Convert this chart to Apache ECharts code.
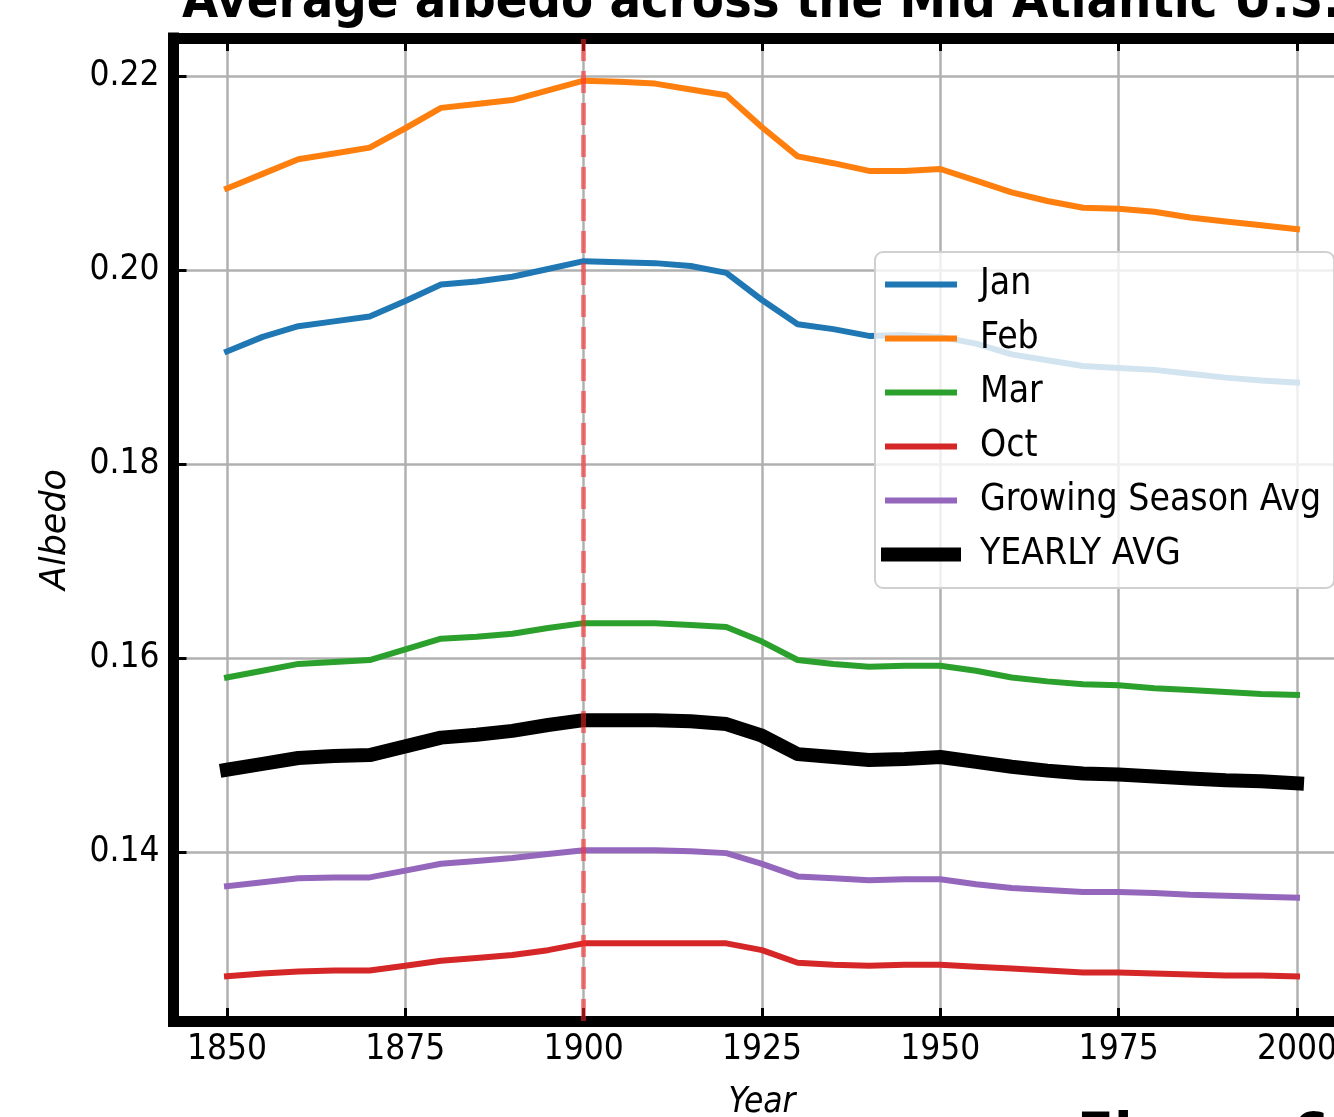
<!DOCTYPE html>
<html>
<head>
<meta charset="utf-8">
<script src="https://cdn.jsdelivr.net/npm/echarts@6/dist/echarts.min.js"></script>
<style>
  html, body { margin: 0; padding: 0; background: #fff; }
  #chart { width: 1334px; height: 1117px; }
</style>
</head>
<body>
<div id="chart"></div>
<script>
// data, 5-year steps
const years = [1850, 1855, 1860, 1865, 1870, 1875, 1880, 1885, 1890, 1895, 1900, 1905, 1910, 1915, 1920,
  1925, 1930, 1935, 1940, 1945, 1950, 1955, 1960, 1965, 1970, 1975, 1980, 1985, 1990, 1995, 2000];
const jan = [0.1916, 0.1931, 0.1942, 0.1947, 0.1952, 0.1968, 0.1985, 0.1988, 0.1993, 0.2001, 0.2009, 0.2008, 0.2007, 0.2004, 0.1997,
  0.1969, 0.1944, 0.1939, 0.1932, 0.1933, 0.1931, 0.1924, 0.1913, 0.1907, 0.1901, 0.1899, 0.1897, 0.1893, 0.1889, 0.1886, 0.1884];
const feb = [0.2084, 0.2099, 0.2114, 0.2120, 0.2126, 0.2146, 0.2167, 0.2171, 0.2175, 0.2185, 0.2195, 0.2194, 0.2192, 0.2186, 0.2180,
  0.2147, 0.2117, 0.2110, 0.2102, 0.2102, 0.2104, 0.2092, 0.2080, 0.2071, 0.2064, 0.2063, 0.2060, 0.2054, 0.2050, 0.2046, 0.2042];
const mar = [0.1580, 0.1587, 0.1594, 0.1596, 0.1598, 0.1609, 0.1620, 0.1622, 0.1625, 0.1631, 0.1636, 0.1636, 0.1636, 0.1634, 0.1632,
  0.1617, 0.1598, 0.1594, 0.1591, 0.1592, 0.1592, 0.1587, 0.1580, 0.1576, 0.1573, 0.1572, 0.1569, 0.1567, 0.1565, 0.1563, 0.1562];
const oct = [0.1272, 0.1275, 0.1277, 0.1278, 0.1278, 0.1283, 0.1288, 0.1291, 0.1294, 0.1299, 0.1306, 0.1306, 0.1306, 0.1306, 0.1306,
  0.1299, 0.1286, 0.1284, 0.1283, 0.1284, 0.1284, 0.1282, 0.1280, 0.1278, 0.1276, 0.1276, 0.1275, 0.1274, 0.1273, 0.1273, 0.1272];
const growing = [0.1365, 0.1369, 0.1373, 0.1374, 0.1374, 0.1381, 0.1388, 0.1391, 0.1394, 0.1398, 0.1402, 0.1402, 0.1402, 0.1401, 0.1399,
  0.1388, 0.1375, 0.1373, 0.1371, 0.1372, 0.1372, 0.1367, 0.1363, 0.1361, 0.1359, 0.1359, 0.1358, 0.1356, 0.1355, 0.1354, 0.1353];
const yearly = [0.1485, 0.1491, 0.1497, 0.1499, 0.1500, 0.1509, 0.1518, 0.1521, 0.1525, 0.1531, 0.1536, 0.1536, 0.1536, 0.1535, 0.1532,
  0.1520, 0.1501, 0.1498, 0.1495, 0.1496, 0.1498, 0.1493, 0.1488, 0.1484, 0.1481, 0.1480, 0.1478, 0.1476, 0.1474, 0.1473, 0.1471];

const xTicks = [1850, 1875, 1900, 1925, 1950, 1975, 2000];
const yTicks = [0.14, 0.16, 0.18, 0.20, 0.22];
const markYear = 1900;

const seriesNames = ['Jan', 'Feb', 'Mar', 'Oct', 'Growing Season Avg', 'YEARLY AVG'];
const seriesValues = [jan, feb, mar, oct, growing, yearly];
const seriesColors = ['#1f77b4', '#ff7f0e', '#2ca02c', '#d62728', '#9467bd', '#000000'];
const seriesWidths = [6, 6, 6, 6, 6, 14];

const COND = '"DejaVu Sans Condensed", "DejaVu Sans", sans-serif';
const GRID = '#b0b0b0';

const chart = echarts.init(document.getElementById('chart'));

const series = seriesNames.map((name, i) => {
  const s = {
    name: name,
    type: 'line',
    data: years.map((y, k) => [y, seriesValues[i][k]]),
    symbol: 'none',
    showSymbol: false,
    silent: true,
    lineStyle: { color: seriesColors[i], width: seriesWidths[i], cap: 'square', join: 'round' },
    itemStyle: { color: seriesColors[i] }
  };
  // red dashed reference line, drawn on the last series so it sits on top
  if (i === seriesNames.length - 1) {
    s.markLine = {
      silent: true,
      symbol: 'none',
      label: { show: false },
      lineStyle: { color: 'rgba(255, 40, 40, 0.55)', width: 5, type: [22, 10] },
      data: [{ xAxis: markYear }]
    };
  }
  return s;
});

const axisLine = { show: true, lineStyle: { color: '#000', width: 11, cap: 'square' } };
const tick = { show: true, inside: true, length: 13, lineStyle: { color: '#000', width: 3 } };

const option = {
  animation: false,
  backgroundColor: '#fff',
  grid: {
    left: 173.5, top: 38, width: 1177, height: 983,
    containLabel: false,
    outerBoundsMode: 'none'
  },
  xAxis: [
    {
      type: 'value', position: 'bottom', min: 1842.5, max: 2007.5,
      axisLine: axisLine,
      axisTick: Object.assign({ customValues: xTicks }, tick),
      axisLabel: {
        customValues: xTicks, margin: 11, color: '#000',
        fontFamily: COND, fontSize: 35, hideOverlap: false,
        formatter: v => String(v)
      },
      splitLine: { show: true, lineStyle: { color: GRID, width: 2.5 } },
      name: 'Year', nameLocation: 'middle', nameGap: 64,
      nameTextStyle: { fontFamily: COND, fontStyle: 'italic', fontSize: 35, color: '#000' }
    },
    {
      type: 'value', position: 'top', min: 1842.5, max: 2007.5,
      axisLine: axisLine,
      axisTick: Object.assign({ customValues: xTicks }, tick),
      axisLabel: { show: false },
      splitLine: { show: false }
    }
  ],
  yAxis: {
    type: 'value', min: 0.1226, max: 0.2239,
    axisLine: axisLine,
    axisTick: Object.assign({ customValues: yTicks }, tick),
    axisLabel: {
      customValues: yTicks, margin: 14, color: '#000',
      fontFamily: COND, fontSize: 35, hideOverlap: false,
      formatter: v => v.toFixed(2)
    },
    splitLine: { show: true, lineStyle: { color: GRID, width: 2.5 } },
    name: 'Albedo', nameLocation: 'middle', nameRotate: 90, nameGap: 100,
    nameTextStyle: { fontFamily: '"DejaVu Sans", sans-serif', fontStyle: 'italic', fontSize: 35, color: '#000' }
  },
  legend: {
    orient: 'vertical',
    left: 875, top: 252,
    padding: [14, 13, 15, 6],
    itemGap: 17,
    itemWidth: 66,
    itemHeight: 14,
    selectedMode: false,
    backgroundColor: 'rgba(255, 255, 255, 0.8)',
    borderColor: '#d0d0d0',
    borderWidth: 2,
    borderRadius: 8,
    textStyle: { fontFamily: COND, fontSize: 37, lineHeight: 37, color: '#000', padding: [0, 0, 0, 21] },
    data: seriesNames.map((name, i) => ({
      name: name,
      itemStyle: { opacity: 0 },
      lineStyle: { width: seriesWidths[i], cap: 'square', opacity: 1 }
    }))
  },
  graphic: [
    {
      type: 'text', x: 761.5, y: 3, silent: true,
      style: {
        text: 'Average albedo across the Mid Atlantic U.S.',
        fontFamily: COND, fontWeight: 'bold', fontSize: 52, fill: '#000',
        textAlign: 'center', textVerticalAlign: 'middle', verticalAlign: 'middle'
      }
    },
    {
      type: 'text', x: 1077, y: 1140, silent: true,
      style: {
        text: 'Figure 6',
        fontFamily: COND, fontWeight: 'bold', fontSize: 60, fill: '#000',
        textAlign: 'left', textVerticalAlign: 'middle', verticalAlign: 'middle'
      }
    }
  ],
  series: series
};

chart.setOption(option);
</script>
</body>
</html>
